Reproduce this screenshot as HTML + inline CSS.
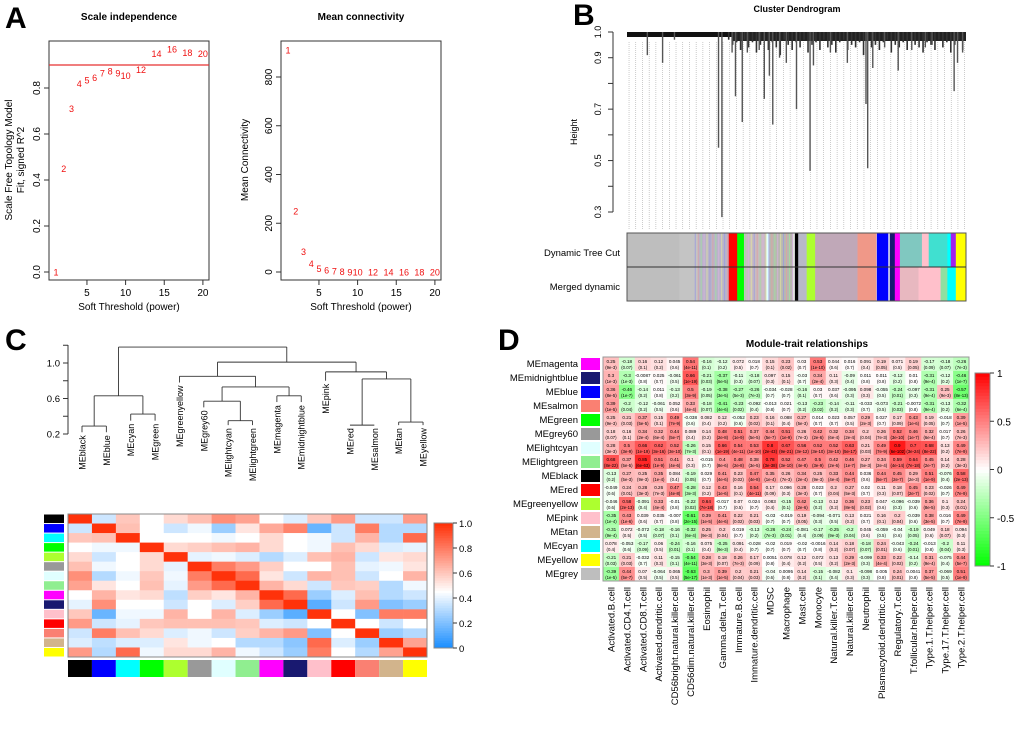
<!DOCTYPE html>
<html><head><meta charset="utf-8"><style>
html,body{margin:0;padding:0;background:#fff;}
svg{display:block;font-family:"Liberation Sans",sans-serif;}
</style></head><body>
<svg id="fig" width="1020" height="729" viewBox="0 0 1020 729" xmlns="http://www.w3.org/2000/svg"></svg>
<script>
// ---------- Panel A data ----------
const powers = [1,2,3,4,5,6,7,8,9,10,12,14,16,18,20];
const fitR2 = [0.0,0.45,0.71,0.82,0.835,0.845,0.865,0.875,0.865,0.855,0.88,0.95,0.97,0.955,0.95];
const meanConn = [910,250,85,35,15,8,4,2,1,1,0,0,0,0,0];
const fitTicks = [0,0.2,0.4,0.6,0.8];
const connTicks = [0,200,400,600,800];
const powerTicks = [5,10,15,20];
// ---------- Panel B data ----------
const bHeightTicks = [0.3,0.5,0.7,0.9,1.0];
const bDrops = [[0.06,0.91],[0.105,0.88],[0.14,0.97],[0.27,0.55],[0.28,0.28],[0.31,0.92],[0.32,0.75],[0.34,0.65],[0.355,0.92],[0.39,0.93],[0.405,0.74],[0.42,0.83],[0.43,0.64],[0.45,0.9],[0.47,0.88],[0.5,0.70],[0.54,0.46],[0.55,0.87],[0.6,0.92],[0.65,0.88],[0.705,0.72],[0.71,0.47],[0.725,0.86],[0.76,0.94],[0.80,0.85],[0.84,0.93],[0.88,0.94],[0.9,0.95],[0.965,0.77],[0.975,0.88],[0.99,0.92]];
const bShort = [0.97,0.95,0.96,0.93,0.97,0.94,0.96,0.92,0.95,0.97,0.93,0.96,0.94,0.91,0.97,0.95,0.93,0.96,0.94,0.97,0.92,0.95,0.96,0.93,0.97,0.94,0.95,0.92,0.96,0.97,0.93,0.95,0.94,0.96,0.91,0.97,0.94,0.95,0.93,0.96,0.97,0.92,0.95,0.94,0.96,0.93,0.97,0.95,0.94,0.92,0.96,0.95,0.93,0.97,0.94,0.96,0.92,0.95,0.97,0.93];
const dynSegs = [[0,0.155,"#bebebe"],[0.155,0.21,"#c4c4c4"],[0.21,0.3,"#b9b4c8"],[0.3,0.325,"#ff0000"],[0.325,0.345,"#00ff00"],[0.345,0.41,"#c8bcc0"],[0.41,0.42,"#e0ffff"],[0.42,0.49,"#b8b8b0"],[0.495,0.505,"#000000"],[0.505,0.53,"#b8b8c8"],[0.53,0.555,"#adff2f"],[0.555,0.68,"#c0a8b8"],[0.68,0.735,"#f09888"],[0.737,0.77,"#0000ff"],[0.775,0.79,"#191970"],[0.79,0.805,"#ff00ff"],[0.805,0.87,"#80c8c0"],[0.87,0.89,"#ffc0cb"],[0.89,0.945,"#40e0d0"],[0.945,0.955,"#00ffff"],[0.955,0.97,"#a020f0"],[0.97,1,"#ffff00"]];
const mrgSegs = [[0,0.155,"#bebebe"],[0.155,0.21,"#c4c4c4"],[0.21,0.3,"#b9b4c8"],[0.3,0.325,"#ff0000"],[0.325,0.345,"#00ff00"],[0.345,0.41,"#c8bcc0"],[0.41,0.42,"#e0ffff"],[0.42,0.49,"#b8b8b0"],[0.495,0.505,"#000000"],[0.505,0.53,"#b8b8c8"],[0.53,0.555,"#adff2f"],[0.555,0.68,"#c0a8b8"],[0.68,0.735,"#f09888"],[0.737,0.77,"#0000ff"],[0.775,0.79,"#191970"],[0.79,0.805,"#ff00ff"],[0.805,0.86,"#e8b8c0"],[0.86,0.925,"#ffc0cb"],[0.925,0.945,"#90e0a0"],[0.945,0.97,"#00ffff"],[0.97,1,"#ffff00"]];
// ---------- Panel C data ----------
const cMods = ["black","blue","cyan","green","greenyellow","grey60","lightcyan","lightgreen","magenta","midnightblue","pink","red","salmon","tan","yellow"];
const cColors = ["#000000","#0000ff","#00ffff","#00ff00","#adff2f","#999999","#e0ffff","#90ee90","#ff00ff","#191970","#ffc0cb","#ff0000","#fa8072","#d2b48c","#ffff00"];
const cMerges = [[0,1,0.29],[2,3,0.425],[-1,-2,0.63],[6,7,0.35],[5,-4,0.57],[8,9,0.63],[-5,-6,0.73],[4,-7,0.85],[11,12,0.30],[13,14,0.335],[-9,-10,0.82],[10,-11,0.90],[-8,-12,1.01],[-3,-13,1.18]];
const cLeafEnd = [0.22,0.22,0.35,0.35,0.78,0.5,0.3,0.3,0.56,0.56,0.8,0.3,0.3,0.3,0.3];
const cTicks = [0.2,0.6,1.0];
const cMat = [
[1,0.35,0.6,0.45,0.55,0.62,0.75,0.7,0.45,0.38,0.6,0.72,0.35,0.35,0.72],
[0.35,1,0.62,0.45,0.35,0.42,0.25,0.52,0.68,0.78,0.15,0.35,0.8,0.3,0.3],
[0.6,0.62,1,0.45,0.45,0.45,0.42,0.45,0.55,0.45,0.42,0.35,0.65,0.3,0.85],
[0.45,0.42,0.42,1,0.55,0.58,0.62,0.65,0.55,0.45,0.42,0.62,0.55,0.38,0.4],
[0.55,0.35,0.45,0.55,1,0.4,0.42,0.38,0.3,0.38,0.62,0.65,0.35,0.52,0.55],
[0.62,0.42,0.45,0.55,0.4,1,0.8,0.72,0.58,0.45,0.45,0.62,0.4,0.42,0.52],
[0.75,0.3,0.42,0.6,0.42,0.8,1,0.85,0.52,0.35,0.65,0.62,0.35,0.45,0.65],
[0.7,0.52,0.45,0.62,0.4,0.72,0.85,1,0.65,0.55,0.35,0.6,0.58,0.3,0.42],
[0.45,0.65,0.52,0.55,0.32,0.58,0.52,0.65,1,0.85,0.25,0.38,0.62,0.3,0.35],
[0.4,0.75,0.45,0.45,0.35,0.45,0.38,0.58,0.85,1,0.12,0.35,0.72,0.2,0.25],
[0.6,0.15,0.42,0.42,0.65,0.45,0.65,0.38,0.25,0.12,1,0.45,0.2,0.8,0.8],
[0.72,0.35,0.4,0.6,0.62,0.62,0.62,0.6,0.38,0.35,0.45,1,0.45,0.35,0.45],
[0.35,0.8,0.62,0.55,0.38,0.42,0.35,0.58,0.65,0.72,0.2,0.45,1,0.25,0.3],
[0.38,0.32,0.38,0.38,0.52,0.42,0.45,0.3,0.3,0.22,0.85,0.38,0.25,1,0.7],
[0.72,0.3,0.85,0.42,0.55,0.55,0.65,0.42,0.35,0.25,0.8,0.45,0.3,0.7,1]];
const cScaleTicks = ["0","0.2","0.4","0.6","0.8","1.0"];
// ---------- Panel D data ----------
const dMods = ["MEmagenta","MEmidnightblue","MEblue","MEsalmon","MEgreen","MEgrey60","MElightcyan","MElightgreen","MEblack","MEred","MEgreenyellow","MEpink","MEtan","MEcyan","MEyellow","MEgrey"];
const dColors = ["#ff00ff","#191970","#0000ff","#fa8072","#00ff00","#999999","#e0ffff","#90ee90","#000000","#ff0000","#adff2f","#ffc0cb","#d2b48c","#00ffff","#ffff00","#bebebe"];
const dTraits = ["Activated.B.cell","Activated.CD4.T.cell","Activated.CD8.T.cell","Activated.dendritic.cell","CD56bright.natural.killer.cell","CD56dim.natural.killer.cell","Eosinophil","Gamma.delta.T.cell","Immature.B.cell","Immature.dendritic.cell","MDSC","Macrophage","Mast.cell","Monocyte","Natural.killer.T.cell","Natural.killer.cell","Neutrophil","Plasmacytoid.dendritic.cell","Regulatory.T.cell","T.follicular.helper.cell","Type.1.T.helper.cell","Type.17.T.helper.cell","Type.2.T.helper.cell"];
const dCor = [
[0.25,-0.18,0.16,0.12,0.045,0.54,-0.16,-0.12,0.072,0.018,0.15,0.23,0.03,0.53,0.044,0.016,0.091,0.19,0.071,0.19,-0.17,-0.18,-0.26],
[0.3,-0.3,-0.0087,0.025,-0.061,0.66,-0.21,-0.37,-0.11,-0.18,0.097,0.15,-0.03,0.34,0.11,-0.09,0.011,0.011,-0.12,0.01,-0.31,-0.12,-0.46],
[0.36,-0.46,-0.14,0.011,-0.13,0.5,-0.19,-0.38,-0.27,-0.26,-0.034,-0.028,-0.16,0.03,0.037,-0.095,0.098,-0.055,-0.24,-0.097,-0.31,0.25,-0.57],
[0.39,-0.2,-0.12,-0.061,0.052,0.33,-0.18,-0.41,-0.23,-0.092,-0.013,0.021,-0.13,-0.23,-0.14,-0.11,-0.033,-0.073,-0.21,-0.0072,-0.31,-0.13,-0.32],
[0.25,0.21,0.37,0.15,0.49,-0.038,0.082,0.12,-0.052,0.23,0.16,0.088,0.27,0.014,0.023,0.057,0.29,0.027,0.17,0.43,0.19,-0.018,0.39],
[0.18,0.16,0.34,0.32,0.44,0.089,0.14,0.48,0.51,0.37,0.44,0.51,0.26,0.42,0.32,0.34,0.2,0.26,0.52,0.46,0.32,0.017,0.26],
[0.28,0.5,0.66,0.62,0.52,-0.26,0.15,0.66,0.54,0.53,0.8,0.67,0.56,0.52,0.52,0.63,0.21,0.49,0.9,0.7,0.68,0.13,0.49],
[0.68,0.37,0.85,0.51,0.41,0.1,-0.015,0.4,0.48,0.38,0.78,0.52,0.47,0.5,0.42,0.46,0.27,0.34,0.59,0.64,0.45,0.14,0.28],
[-0.13,0.27,0.25,0.35,0.084,-0.19,0.029,0.41,0.23,0.47,0.35,0.26,0.34,0.25,0.33,0.44,0.036,0.44,0.45,0.29,0.51,-0.076,0.58],
[-0.049,0.24,0.28,0.26,0.47,-0.28,0.12,0.43,0.16,0.54,0.17,0.096,0.28,0.023,0.2,0.27,0.02,0.11,0.18,0.45,0.23,-0.026,0.49],
[-0.046,0.58,-0.091,0.33,-0.01,-0.22,0.64,-0.017,0.07,0.024,0.083,-0.15,0.42,-0.13,0.12,0.36,0.23,0.047,-0.096,-0.039,0.36,0.1,0.24],
[-0.35,0.43,0.039,0.035,-0.007,-0.61,0.39,0.41,0.22,0.21,-0.03,-0.019,0.19,-0.094,-0.071,0.13,0.021,0.16,0.2,-0.039,0.38,0.016,0.49],
[-0.31,0.072,-0.072,-0.18,-0.16,-0.32,0.25,0.2,0.019,-0.13,-0.26,-0.24,-0.081,-0.17,-0.25,-0.2,0.045,-0.059,-0.04,-0.19,0.049,0.18,0.094],
[0.078,-0.053,-0.17,0.06,-0.24,-0.16,0.075,-0.25,0.091,-0.028,-0.02,0.019,-0.02,-0.0016,0.14,0.18,-0.18,0.24,-0.043,-0.24,-0.013,-0.2,0.11],
[-0.21,0.21,-0.032,0.11,-0.15,-0.54,0.28,0.18,0.26,0.17,0.0051,0.078,0.12,0.072,0.13,0.29,-0.099,0.33,0.22,-0.14,0.31,-0.075,0.44],
[-0.39,0.44,0.07,-0.064,0.065,-0.63,0.3,0.39,0.2,0.21,-0.04,0.0095,0.14,-0.15,-0.082,0.1,-0.098,0.005,0.24,0.0041,0.37,-0.069,0.51]];
const dScaleTicks = ["-1","-0.5","0","0.5","1"];

const NS="http://www.w3.org/2000/svg";
const svg=document.getElementById('fig');
function el(tag,attrs,parent){const e=document.createElementNS(NS,tag);for(const k in attrs)e.setAttribute(k,attrs[k]);(parent||svg).appendChild(e);return e;}
function txt(s,x,y,size,opts,parent){opts=opts||{};const t=el('text',{x:x,y:y,'font-size':size,fill:opts.fill||'#000','text-anchor':opts.anchor||'middle','font-weight':opts.weight||'normal'},parent);if(opts.rot)t.setAttribute('transform','rotate('+opts.rot+' '+x+' '+y+')');t.textContent=s;return t;}

[["A",5,28],["B",573,25],["C",5,350],["D",498,350]].forEach(p=>{const t=txt(p[0],p[1],p[2],30,{anchor:'start',weight:'bold'});

});

// ---------- Panel A ----------
function scatterPanel(x0,x1,y0,y1,ymax,yTopPix,vals,yticks,title,name,refLine,dec){
  const g=el('g',{});
  
  
  const xs=v=>x0-0.7+v*7.73;
  const ys=v=>272-v/ymax*(272-yTopPix);
  el('rect',{x:x0,y:y0,width:x1-x0,height:y1-y0,fill:'none',stroke:'#333','stroke-width':1},g);
  powerTicks.forEach(t=>{const X=xs(t);el('line',{x1:X,x2:X,y1:y1,y2:y1+5,stroke:'#333'},g);txt(String(t),X,y1+16,10,{},g);});
  yticks.forEach(t=>{const Y=ys(t);el('line',{x1:x0,x2:x0-5,y1:Y,y2:Y,stroke:'#333'},g);txt(dec?t.toFixed(1):String(t),x0-9,Y,10,{rot:-90},g);});
  txt(title,(x0+x1)/2,20,10,{weight:'bold'},g);
  txt('Soft Threshold (power)',(x0+x1)/2,y1+30,10,{},g);
  if(refLine!==undefined){const l=el('line',{x1:x0,x2:x1,y1:ys(refLine),y2:ys(refLine),stroke:'#e83030','stroke-width':1.2},g);
  
  }
  powers.forEach((p,i)=>{const t=txt(String(p),xs(p),ys(vals[i])+3.5,9,{fill:'#f01010'},g);
  
  });
}
scatterPanel(49,209,41,280,0.8,88,fitR2,fitTicks,'Scale independence',"scale-independence-plot",0.9,true);
txt('Scale Free Topology Model',12,160,10,{rot:-90});
txt('Fit, signed R^2',24,160,10,{rot:-90});
scatterPanel(281,441,41,280,800,77,meanConn,connTicks,'Mean connectivity',"mean-connectivity-plot",undefined,false);
txt('Mean Connectivity',248,160,10,{rot:-90});

// ---------- Panel B ----------
(function(){
  const g=el('g',{});
  
  
  const X0=627,X1=966;const ys=h=>32+(1.0-h)/0.7*180;const xs=f=>X0+f*(X1-X0);
  txt('Cluster Dendrogram',797,12,9,{weight:'bold'},g);
  el('line',{x1:613,x2:613,y1:ys(1.0),y2:ys(0.3),stroke:'#333'},g);
  [0.3,0.4,0.5,0.6,0.7,0.8,0.9,1.0].forEach(t=>el('line',{x1:613,x2:608,y1:ys(t),y2:ys(t),stroke:'#333'},g));
  bHeightTicks.forEach(t=>txt(t.toFixed(1),601,ys(t),9,{rot:-90},g));
  txt('Height',577,132,9,{rot:-90},g);
  for(let i=0;i<=50;i++){const x=xs(0.006+i*0.0198);el('line',{x1:x,x2:x,y1:42,y2:230,stroke:'#aaa','stroke-width':0.6,'stroke-dasharray':'1,1'},g);}
  el('rect',{x:X0,y:ys(1.0),width:X1-X0,height:5,fill:'#111'},g);
  el('rect',{x:xs(0.31),y:ys(1.0),width:xs(1)-xs(0.31),height:9,fill:'#222'},g);
  bShort.forEach((h,i)=>{const f=0.3+i*0.0117;el('line',{x1:xs(f),x2:xs(f),y1:ys(1.0),y2:ys(h),stroke:'#333','stroke-width':1.6},g);});
  bDrops.forEach(d=>{el('line',{x1:xs(d[0]),x2:xs(d[0]),y1:ys(1.0),y2:ys(d[1]),stroke:'#555','stroke-width':1.4},g);});
  [[dynSegs,233,'dynamic-tree-cut-bar'],[mrgSegs,267,'merged-dynamic-bar']].forEach(b=>{
    const gg=el('g',{},g);
    
    
    b[0].forEach(s=>el('rect',{x:xs(s[0]),y:b[1],width:xs(s[1])-xs(s[0])+0.3,height:34,fill:s[2]},gg));
  });
  for(let i=0;i<40;i++){const f=0.2+i*0.0087;if(f<0.3||(f>0.345&&f<0.49)){const c=['#9a9ae0','#e0a0a0','#a0e0a0','#d8b0e0','#e0e0a0'][i%5];el('rect',{x:xs(f),y:233,width:0.8,height:68,fill:c},g);}}
  el('rect',{x:X0,y:233,width:X1-X0,height:68,fill:'none',stroke:'#555'},g);
  el('line',{x1:X0,x2:X1,y1:267,y2:267,stroke:'#333'},g);
  txt('Dynamic Tree Cut',620,256,9.5,{anchor:'end'},g);
  txt('Merged dynamic',620,290,9.5,{anchor:'end'},g);
})();

// ---------- Panel C ----------
(function(){
  const g=el('g',{});
  
  
  const ys=h=>434-(h-0.2)/0.8*71;const lx=i=>82+i*24.36;
  el('line',{x1:68,x2:68,y1:345,y2:434,stroke:'#333'},g);
  [0.2,0.4,0.6,0.8,1.0,1.2].forEach(t=>el('line',{x1:68,x2:63,y1:ys(t),y2:ys(t),stroke:'#333'},g));
  cTicks.forEach(t=>txt(t.toFixed(1),60,ys(t)+3.5,9.5,{anchor:'end'},g));
  const nodes=[];
  const pos=r=>r>=0?{x:lx(r),h:null,leaf:r}:nodes[-r-1];
  cMerges.forEach(m=>{
    const a=pos(m[0]),b=pos(m[1]);const H=m[2];
    [a,b].forEach(n=>{const bottom=n.leaf!==undefined?cLeafEnd[n.leaf]:n.h;
      el('line',{x1:n.x,x2:n.x,y1:ys(H),y2:ys(bottom),stroke:'#333','stroke-width':0.9},g);});
    el('line',{x1:a.x,x2:b.x,y1:ys(H),y2:ys(H),stroke:'#333','stroke-width':0.9},g);
    nodes.push({x:(a.x+b.x)/2,h:H});
  });
  cMods.forEach((m,i)=>{const y=ys(cLeafEnd[i])+3;const t=txt('ME'+m,lx(i)+3.5,y,9,{anchor:'end',rot:-90},g);
    
    });
  const hm=el('g',{});
  
  
  const HX=68,HY=514,W=(427-68)/15,H=(657-514)/15;
  const col=v=>{let r,gg,b;const mid=0.45;
    if(v<mid){const t=v/mid;r=Math.round(30+225*t);gg=Math.round(144+111*t);b=255;}
    else{const t=(v-mid)/(1-mid);r=255;gg=Math.round(255-(255-50)*t);b=Math.round(255-(255-10)*t);}
    return 'rgb('+r+','+gg+','+b+')';};
  cMat.forEach((row,i)=>row.forEach((v,j)=>{el('rect',{x:HX+j*W,y:HY+i*H,width:W+0.3,height:H+0.3,fill:col(v)},hm);}));
  el('rect',{x:HX,y:HY,width:W*15,height:H*15,fill:'none',stroke:'#888'},hm);
  cColors.forEach((c,i)=>{el('rect',{x:44,y:HY+i*H+0.5,width:20,height:H-1,fill:c},hm);el('rect',{x:HX+i*W,y:660,width:W,height:17,fill:c},hm);});
  const lg=el('g',{});
  
  
  for(let k=0;k<50;k++){const v=k/49;el('rect',{x:434,y:648-(k+1)*2.5,width:19,height:2.7,fill:col(v)},lg);}
  el('rect',{x:434,y:523,width:19,height:125,fill:'none',stroke:'#888'},lg);
  cScaleTicks.forEach((t,k)=>{const y=648-k*25;el('line',{x1:453,x2:457,y1:y,y2:y,stroke:'#333'},lg);txt(t,459,y+4,9.5,{anchor:'start'},lg);});
})();

// ---------- Panel D ----------
(function(){
  const g=el('g',{});
  
  
  const X0=603,Y0=357,W=(969-603)/23,H=14;
  txt('Module-trait relationships',807,347,10,{weight:'bold'},g);
  const col=r=>{const a=Math.abs(r);const c=Math.round(255*(1-a));return r>=0?'rgb(255,'+c+','+c+')':'rgb('+c+',255,'+c+')';};
  const pval=r=>{const n=110;const t=Math.abs(r)*Math.sqrt(n-2)/Math.sqrt(Math.max(1e-6,1-r*r));
    const p=Math.exp(-t*t/2)/(t*0.8+Math.sqrt(t*t*0.36+4))*1.6;const pp=Math.min(1,p);
    if(pp>=0.95)return '(1)';if(pp>=0.01)return '('+(+pp.toPrecision(1))+')';return '('+pp.toExponential(0)+')';};
  dCor.forEach((row,i)=>row.forEach((r,j)=>{
    const x=X0+j*W,y=Y0+i*H;
    el('rect',{x:x,y:y,width:W+0.2,height:H+0.2,fill:col(r)},g);
    txt(String(r),x+W/2,y+6,4.6,{},g);
    txt(pval(r),x+W/2,y+12,4.3,{},g);
  }));
  el('rect',{x:X0,y:Y0,width:W*23,height:H*16,fill:'none',stroke:'#999'},g);
  dMods.forEach((m,i)=>{el('rect',{x:581,y:Y0+i*H+1,width:19,height:H-2,fill:dColors[i]},g);
    const t=txt(m,578,Y0+i*H+10,9.5,{anchor:'end'},g);
    
    });
  dTraits.forEach((tr,j)=>{const x=X0+j*W+W/2+3.5;const t=txt(tr,x,587,9.5,{anchor:'end',rot:-90},g);
    
    });
  const lg=el('g',{});
  
  
  const LT=373,LB=566;
  for(let k=0;k<60;k++){const r=-1+2*(k+0.5)/60;const y=LB-(k+1)*(LB-LT)/60;el('rect',{x:975,y:y,width:15,height:(LB-LT)/60+0.4,fill:col(r)},lg);}
  el('rect',{x:975,y:LT,width:15,height:LB-LT,fill:'none',stroke:'#888'},lg);
  dScaleTicks.forEach((t,k)=>{const y=LB-k*(LB-LT)/4;el('line',{x1:990,x2:994,y1:y,y2:y,stroke:'#333'},lg);txt(t,997,y+4,10,{anchor:'start'},lg);});
})();
</script>
</body></html>
